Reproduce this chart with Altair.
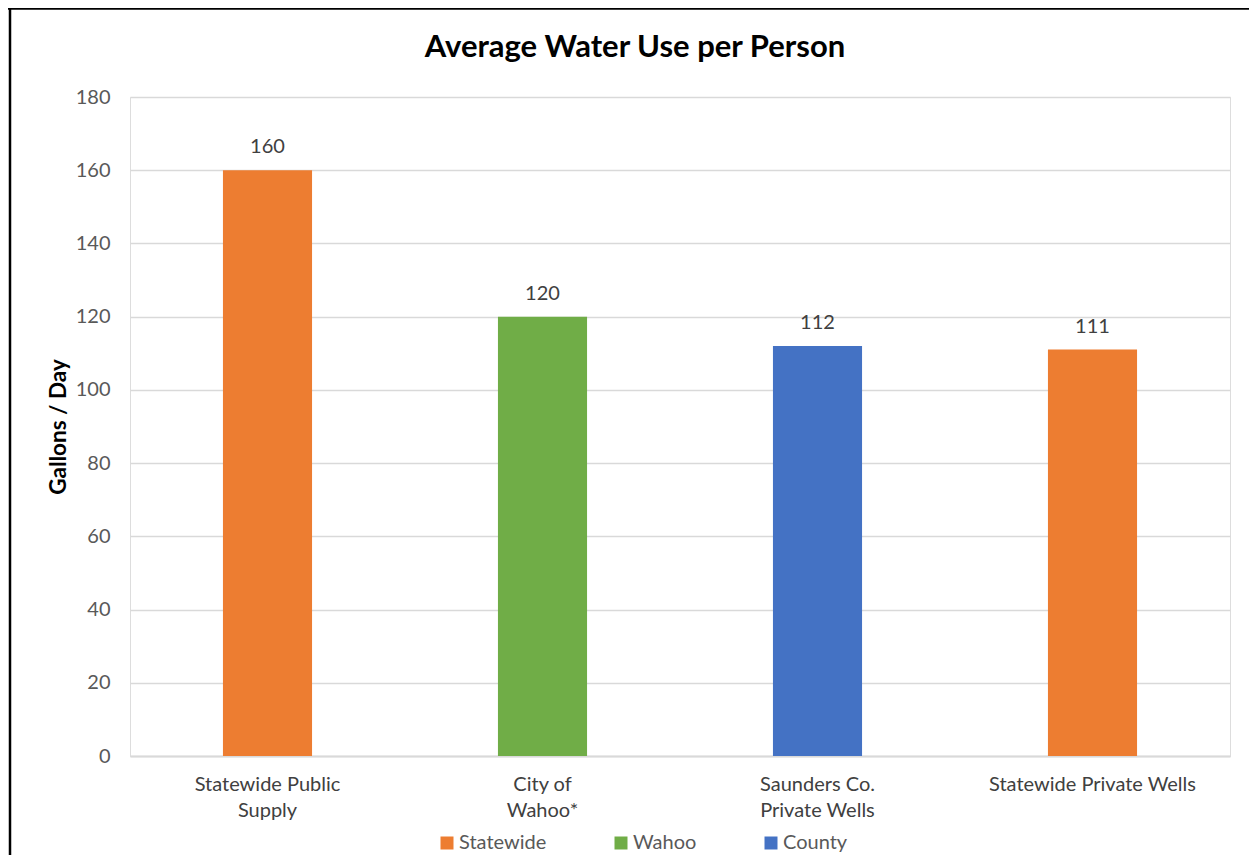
import altair as alt
import pandas as pd

categories = ["Statewide Public Supply", "City of Wahoo*", "Saunders Co. Private Wells", "Statewide Private Wells"]
label_lines = [["Statewide Public", "Supply"], ["City of", "Wahoo*"], ["Saunders Co.", "Private Wells"], ["Statewide Private Wells"]]
values = [160, 120, 112, 111]
groups = ["Statewide", "Wahoo", "County", "Statewide"]
group_order = ["Statewide", "Wahoo", "County"]
group_colors = ["#ED7D31", "#70AD47", "#4472C4"]
chart_title = "Average Water Use per Person"

df = pd.DataFrame({"category": categories, "value": values, "group": groups})

FONT = "Lato"
W, H = 1100, 659
PL, PT, PR, PB = 122, 89, 19, 99

expr_parts = []
for c, lines in zip(categories, label_lines):
    arr = "[" + ",".join("'" + l + "'" for l in lines) + "]"
    expr_parts.append(f"datum.label == '{c}' ? {arr} : ")
label_expr = "".join(expr_parts) + "datum.label"

x_enc = alt.X("category:N", sort=categories, title=None,
              scale=alt.Scale(paddingInner=0.676, paddingOuter=0.338),
              axis=alt.Axis(labelAngle=0, labelFontSize=20, labelColor="#404040", labelFont=FONT,
                            labelPadding=18, labelLineHeight=26, labelExpr=label_expr, labelLimit=400,
                            ticks=False, tickSize=0, domainColor="#d9d9d9", domainWidth=2))
y_enc = alt.Y("value:Q", title="Gallons / Day",
              scale=alt.Scale(domain=[0, 180], nice=False),
              axis=alt.Axis(values=list(range(0, 181, 20)), labelFontSize=20, labelColor="#595959",
                            labelFont=FONT, labelPadding=20, ticks=False, tickSize=0, domain=False,
                            gridColor="#d9d9d9", gridWidth=1.5,
                            titleFont=FONT, titleFontSize=22.5, titleFontWeight="bold", titleColor="#000000",
                            titleAngle=270, titleX=-72, titleY=H / 2, titleAlign="center",
                            titleBaseline="middle"))

bars = alt.Chart(df).mark_bar().encode(
    x=x_enc, y=y_enc,
    color=alt.Color("group:N", scale=alt.Scale(domain=group_order, range=group_colors),
                    legend=alt.Legend(title=None, orient="none", direction="horizontal",
                                      legendX=307, legendY=736, symbolType="square", symbolSize=169,
                                      symbolStrokeWidth=0, labelFontSize=20, labelColor="#595959",
                                      labelFont=FONT, columnPadding=64, labelOffset=2)),
)

texts = alt.Chart(df).mark_text(baseline="middle", dy=-23, fontSize=20, color="#404040", font=FONT).encode(
    x=alt.X("category:N", sort=categories), y="value:Q", text="value:Q")

single = alt.Data(values=[{"t": chart_title}])
title_mark = alt.Chart(single).mark_text(fontSize=31, fontWeight="bold", font=FONT, color="#000000",
                                         align="center", baseline="middle").encode(
    x=alt.value(635 - 130), y=alt.value(48 - 97), text="t:N")

left_border = alt.Chart(single).mark_rule(color="#000000", strokeWidth=2.5).encode(
    x=alt.value(-PL + 2), y=alt.value(-PT), y2=alt.value(H + PB + 10))
top_border = alt.Chart(single).mark_rule(color="#000000", strokeWidth=2.5).encode(
    y=alt.value(-PT + 0.5), x=alt.value(-PL), x2=alt.value(W + PR + 10))

chart = alt.layer(bars, texts, title_mark, left_border, top_border).properties(
    width=W, height=H,
    autosize=alt.AutoSizeParams(type="none"),
    padding={"left": PL, "top": PT, "right": PR, "bottom": PB},
).configure_view(stroke=None).configure(background="white")

chart.save("out.html", embed_options={"renderer": "svg", "actions": False})
